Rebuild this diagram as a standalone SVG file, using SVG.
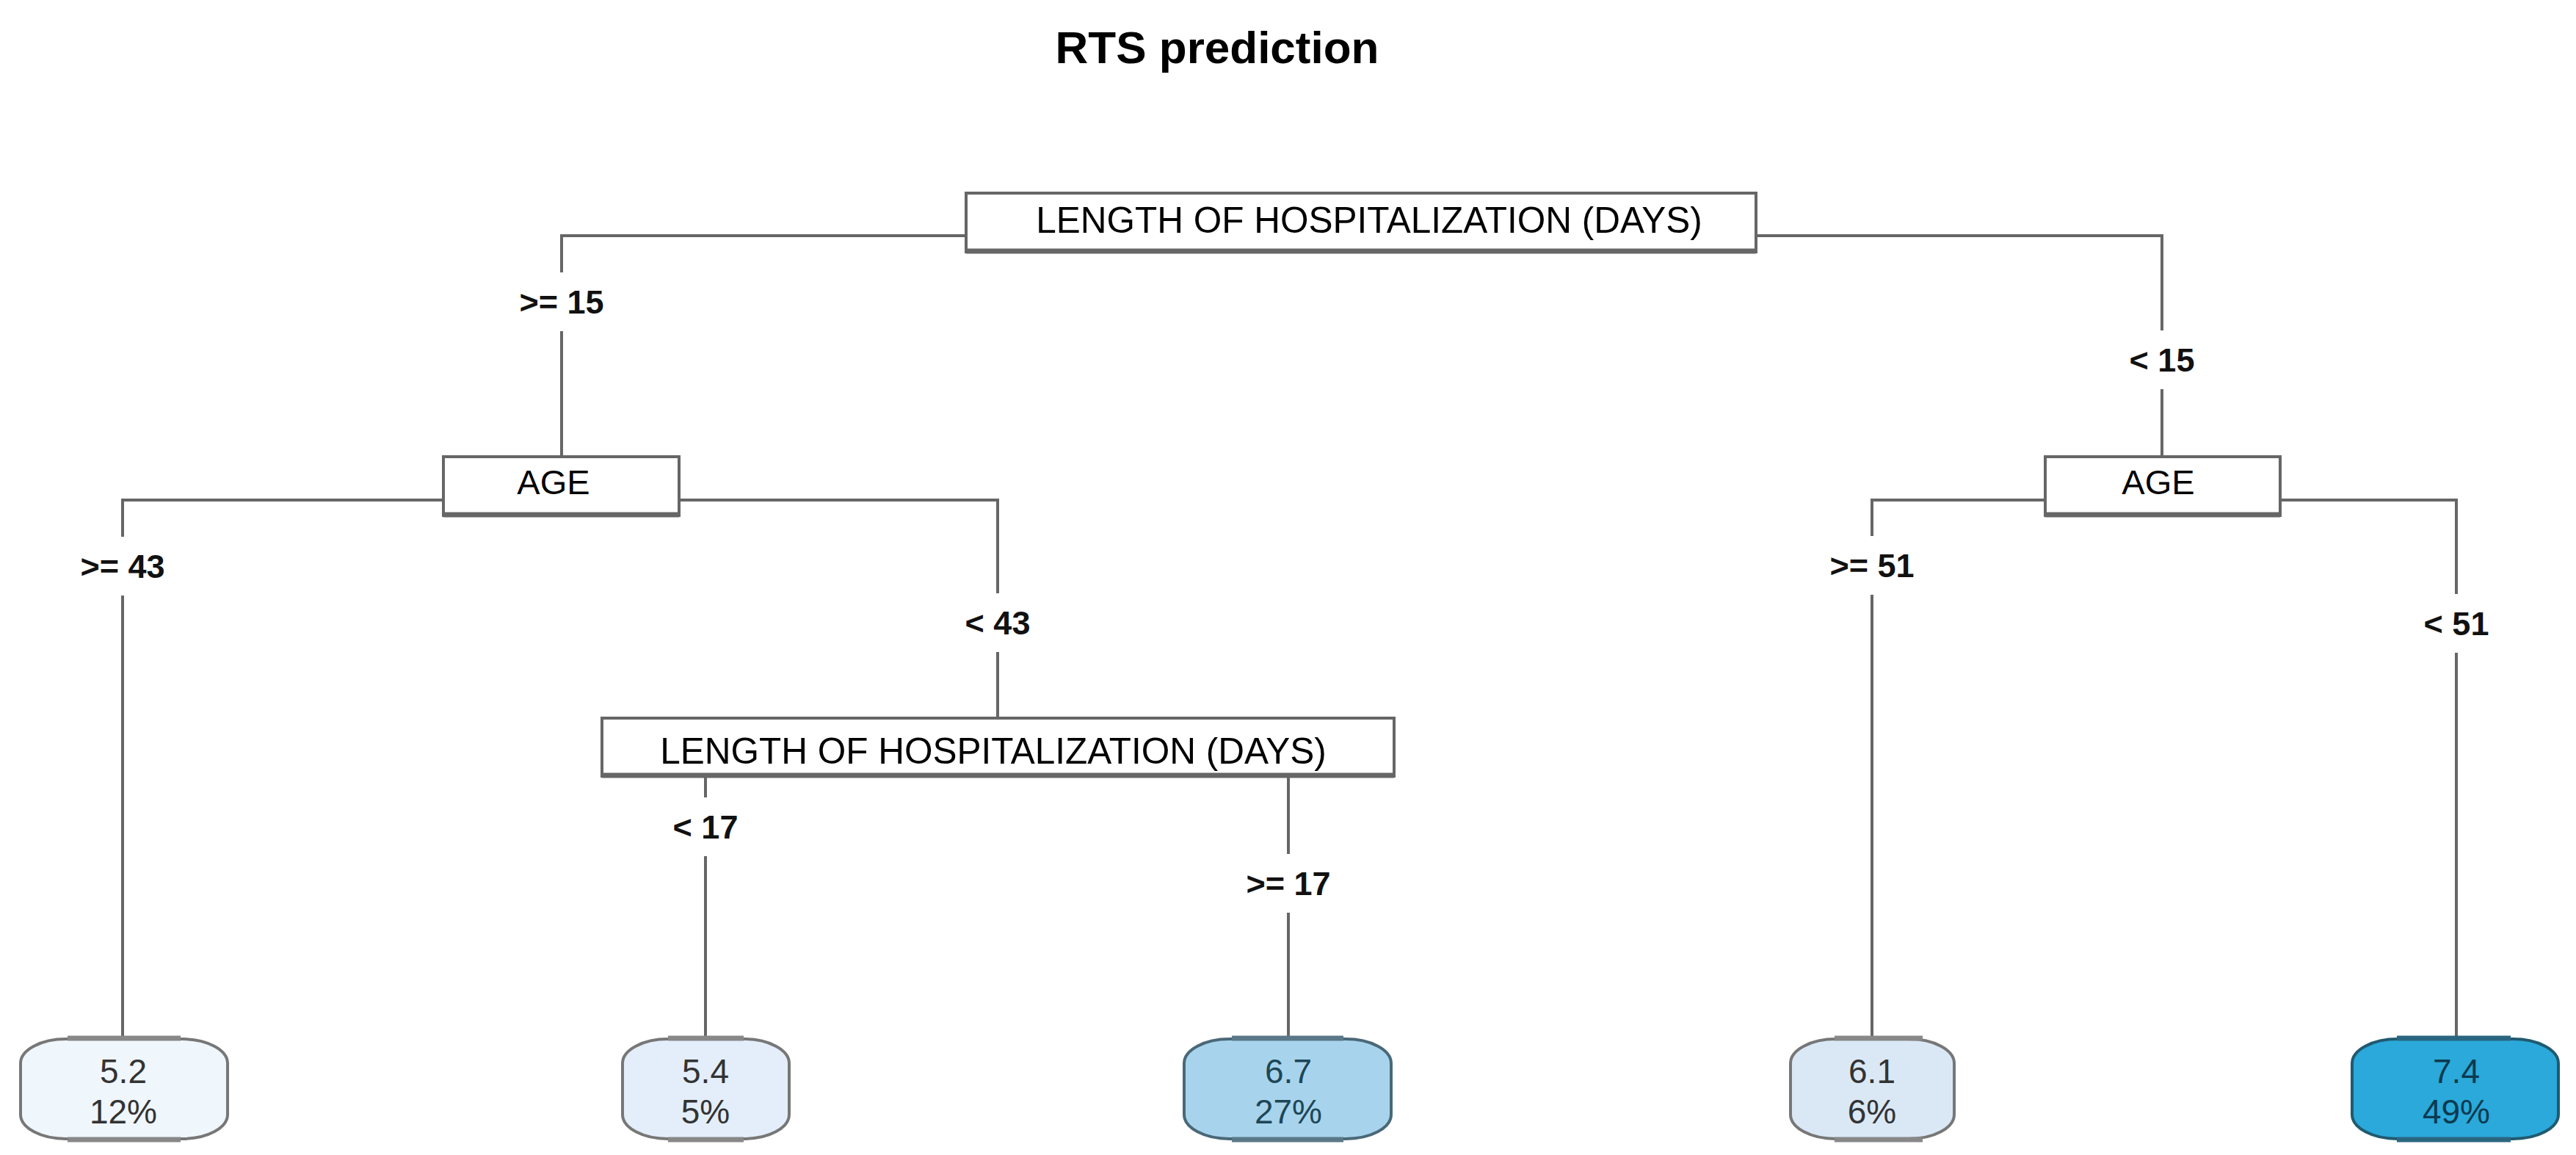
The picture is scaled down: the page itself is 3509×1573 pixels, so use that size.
<svg xmlns="http://www.w3.org/2000/svg" width="3509" height="1573" viewBox="0 0 3509 1573">
<style>
.bg{fill:#ffffff}
.title{font-family:"Liberation Sans",Arial,sans-serif;font-weight:bold;font-size:62px;fill:#000;text-anchor:middle}
.split rect{fill:#fff;stroke:#666;stroke-width:4}
.split .sh{stroke:#666;stroke-width:7}
.split text{font-family:"Liberation Sans",Arial,sans-serif;font-size:49.5px;fill:#000;text-anchor:middle}
.split text.short{font-size:47px}
.conn path{fill:none;stroke:#666;stroke-width:4}
.lbl{font-family:"Liberation Sans",Arial,sans-serif;font-weight:bold;font-size:45px;fill:#111;text-anchor:middle}
.leaf text{font-family:"Liberation Sans",Arial,sans-serif;font-size:46px;text-anchor:middle}
.leaf rect{stroke-width:4}
.leaf line{stroke-width:7}
.light rect{stroke:#777}
.light line{stroke:#888}
.light text{fill:#333}
.mid rect{stroke:#4a6878}
.mid line{stroke:#5a7888}
.mid text{fill:#1d4657}
.dark rect{stroke:#205a70}
.dark line{stroke:#2a6680}
.dark text{fill:#0c3a4f}
</style>
<rect class="bg" x="0" y="0" width="3509" height="1573"/>
<text class="title" x="1658" y="86">RTS prediction</text>

<g id="connectors" class="conn">
<path d="M1316,321 H765 V371 M765,451 V622"/>
<path d="M2392,321 H2945 V450 M2945,530 V622"/>
<path d="M604,681 H167 V731 M167,811 V1413"/>
<path d="M925,681 H1359 V808 M1359,888 V978"/>
<path d="M961,1057 V1086 M961,1166 V1413"/>
<path d="M1755,1057 V1163 M1755,1243 V1413"/>
<path d="M2786,681 H2550 V730 M2550,810 V1413"/>
<path d="M3106,681 H3346 V809 M3346,889 V1413"/>
<text class="lbl" x="765" y="427">&gt;= 15</text>
<text class="lbl" x="2945" y="506">&lt; 15</text>
<text class="lbl" x="167" y="787">&gt;= 43</text>
<text class="lbl" x="1359" y="864">&lt; 43</text>
<text class="lbl" x="2550" y="786">&gt;= 51</text>
<text class="lbl" x="3346" y="865">&lt; 51</text>
<text class="lbl" x="961" y="1142">&lt; 17</text>
<text class="lbl" x="1755" y="1219">&gt;= 17</text>
</g>

<g id="node-root" class="split">
<rect x="1316" y="263" width="1076" height="80"/>
<line class="sh" x1="1316" y1="342" x2="2392" y2="342"/>
<text x="1865" y="317">LENGTH OF HOSPITALIZATION (DAYS)</text>
</g>

<g id="node-age-left" class="split">
<rect x="604" y="622" width="321" height="80"/>
<line class="sh" x1="604" y1="701" x2="925" y2="701"/>
<text class="short" x="754" y="673">AGE</text>
</g>

<g id="node-age-right" class="split">
<rect x="2786" y="622" width="320" height="80"/>
<line class="sh" x1="2786" y1="701" x2="3106" y2="701"/>
<text class="short" x="2940" y="673">AGE</text>
</g>

<g id="node-los-mid" class="split">
<rect x="820" y="978" width="1079" height="79"/>
<line class="sh" x1="820" y1="1056" x2="1899" y2="1056"/>
<text x="1353" y="1040">LENGTH OF HOSPITALIZATION (DAYS)</text>
</g>

<g id="leaf-52" class="leaf light">
<rect x="28" y="1415" width="282" height="136" rx="62" ry="33" fill="#eff6fc"/>
<line x1="92" y1="1414" x2="246" y2="1414"/>
<line x1="92" y1="1552" x2="246" y2="1552"/>
<text x="168" y="1475">5.2</text>
<text x="168" y="1530">12%</text>
</g>

<g id="leaf-54" class="leaf light">
<rect x="848" y="1415" width="227" height="136" rx="62" ry="33" fill="#e3eefa"/>
<line x1="910" y1="1414" x2="1013" y2="1414"/>
<line x1="910" y1="1552" x2="1013" y2="1552"/>
<text x="961" y="1475">5.4</text>
<text x="961" y="1530">5%</text>
</g>

<g id="leaf-67" class="leaf mid">
<rect x="1613" y="1415" width="282" height="136" rx="62" ry="33" fill="#a7d4ec"/>
<line x1="1678" y1="1414" x2="1830" y2="1414"/>
<line x1="1678" y1="1552" x2="1830" y2="1552"/>
<text x="1755" y="1475">6.7</text>
<text x="1755" y="1530">27%</text>
</g>

<g id="leaf-61" class="leaf light">
<rect x="2439" y="1415" width="223" height="136" rx="62" ry="33" fill="#dae8f6"/>
<line x1="2499" y1="1414" x2="2619" y2="1414"/>
<line x1="2499" y1="1552" x2="2619" y2="1552"/>
<text x="2550" y="1475">6.1</text>
<text x="2550" y="1530">6%</text>
</g>

<g id="leaf-74" class="leaf dark">
<rect x="3204" y="1415" width="281" height="136" rx="62" ry="33" fill="#2aa9da"/>
<line x1="3265" y1="1414" x2="3420" y2="1414"/>
<line x1="3265" y1="1552" x2="3420" y2="1552"/>
<text x="3346" y="1475">7.4</text>
<text x="3346" y="1530">49%</text>
</g>
</svg>
